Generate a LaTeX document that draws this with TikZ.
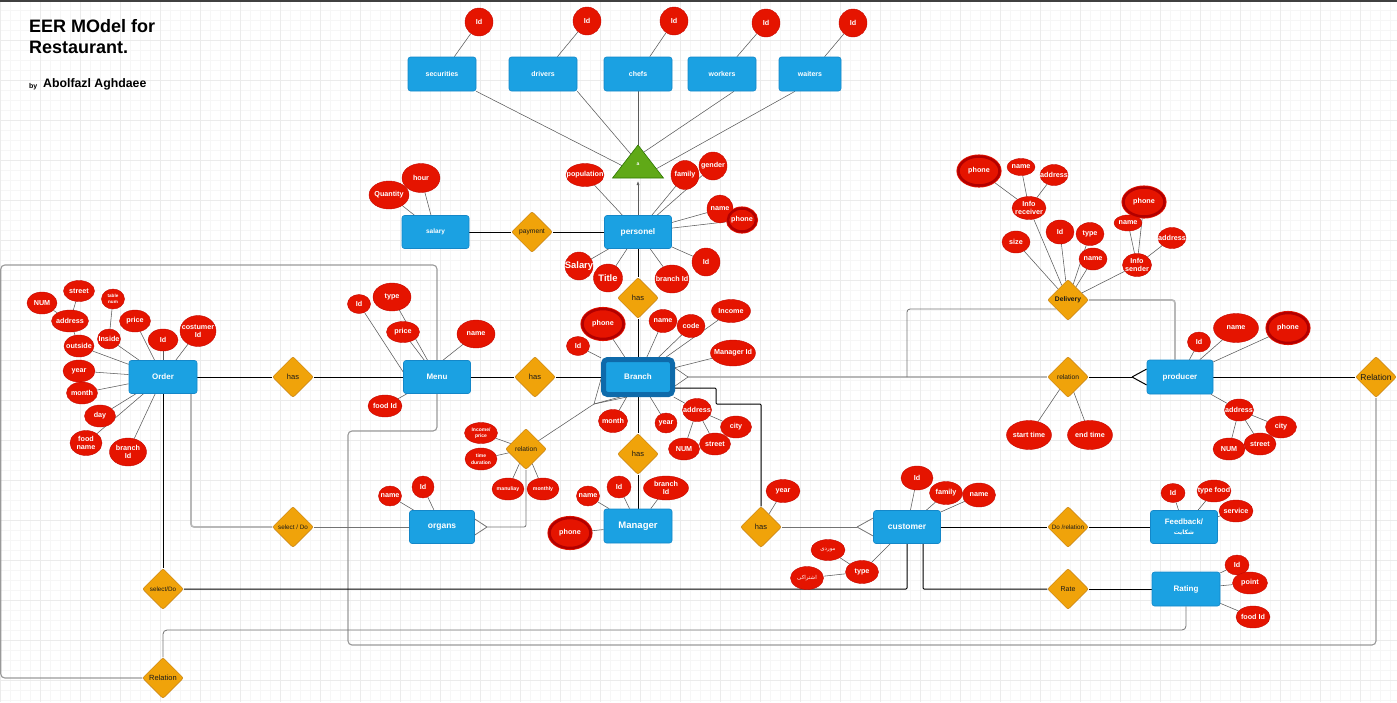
\documentclass[tikz,border=0pt]{standalone}
\usepackage{fontspec}
\setmainfont{Liberation Sans}
\newfontfamily\arabicfont[Script=Arabic]{DejaVu Sans}
\TeXXeTstate=1
\usetikzlibrary{shapes.geometric,arrows.meta,calc,backgrounds}

\definecolor{entblue}{HTML}{1BA1E2}
\definecolor{entline}{HTML}{1487C8}
\definecolor{brdark}{HTML}{0E6AAA}
\definecolor{attrred}{HTML}{E51400}
\definecolor{attrline}{HTML}{B20000}
\definecolor{relfill}{HTML}{F0A30A}
\definecolor{relline}{HTML}{C47C08}
\definecolor{isafill}{HTML}{60A917}
\definecolor{isaline}{HTML}{2D7600}
\definecolor{gridminor}{HTML}{F6F6F6}
\definecolor{gridmajor}{HTML}{EBEBEB}
\definecolor{linkgray}{HTML}{5A5A5A}
\definecolor{palegray}{HTML}{B8B8B8}

\newcommand\zw[1]{\makebox[0pt][c]{#1}}
\newcommand\fsz[2]{\fontsize{#1}{#2}\selectfont}
\newcommand\arb[1]{{\arabicfont\beginR #1\endR}}

\tikzset{
  ent/.style={rectangle, rounded corners=2.5pt, fill=entblue, draw=entline, line width=0.6pt,
    minimum width=67pt, minimum height=33pt, inner sep=1pt, text=white, align=center,
    font=\bfseries\fsz{8}{9.5}},
  att/.style 2 args={ellipse, fill=attrred, draw=attrline!60!attrred, line width=0.4pt,
    minimum width=#1pt, minimum height=#2pt, inner sep=0pt, text=white, align=center,
    font=\bfseries\fsz{7.2}{8.5}},
  mva/.style 2 args={ellipse, fill=attrred, draw=attrred, line width=0.8pt, double=attrline,
    double distance=2.5pt, minimum width=#1pt, minimum height=#2pt, inner sep=0pt,
    text=white, align=center, font=\bfseries\fsz{7.2}{8.5}},
  rel/.style={diamond, fill=relfill, draw=relline, line width=0.5pt, rounded corners=2pt,
    minimum width=41pt, minimum height=41pt, inner sep=0pt, text=black!90, align=center,
    font=\fsz{6.7}{7.5}},
  alink/.style={draw=linkgray, line width=0.55pt},
  rlink/.style={draw=black, line width=1pt},
  glink/.style={draw=palegray, line width=1.7pt},
  tlink/.style={draw=black!55, line width=0.8pt},
  llink/.style={draw=black!40, line width=1.1pt, rounded corners=4pt},
}

\begin{document}
\begin{tikzpicture}[x=1pt,y=-1pt]
\useasboundingbox (0,0) rectangle (1397,702);

% ---------- title ----------
\node[anchor=base west, inner sep=0pt, font=\bfseries\fsz{18}{20}] (t1) at (29,32) {EER MOdel for};
\node[anchor=base west, inner sep=0pt, font=\bfseries\fsz{18}{20}] (t2) at (29,53) {Restaurant.};
\node[anchor=base west, inner sep=0pt, font=\bfseries\fsz{7}{8}] (t3) at (29,88) {by};
\node[anchor=base west, inner sep=0pt, font=\bfseries\fsz{12.3}{14}] (t4) at (43,87) {Abolfazl Aghdaee};

% ---------- staff specialisation ----------
\node[ent, font=\bfseries\fsz{7}{8}, minimum width=68pt, minimum height=34pt] (sec) at (442,74) {securities};
\node[ent, font=\bfseries\fsz{7}{8}, minimum width=68pt, minimum height=34pt] (drv) at (543,74) {drivers};
\node[ent, font=\bfseries\fsz{7}{8}, minimum width=68pt, minimum height=34pt] (chef) at (638,74) {chefs};
\node[ent, font=\bfseries\fsz{7}{8}, minimum width=68pt, minimum height=34pt] (wrk) at (722,74) {workers};
\node[ent, font=\bfseries\fsz{7}{8}, minimum width=62pt, minimum height=34pt] (wtr) at (810,74) {waiters};
\node[att={28}{28}] (sid) at (479,22) {\zw{Id}};
\node[att={28}{28}] (did) at (587,21) {\zw{Id}};
\node[att={28}{28}] (cid) at (674,21) {\zw{Id}};
\node[att={28}{28}] (wid) at (766,23) {\zw{Id}};
\node[att={28}{28}] (tid) at (853,23) {\zw{Id}};

\coordinate (tA) at (638,145);
\coordinate (tL) at (612.5,178);
\coordinate (tR) at (663.5,178);
\coordinate (tB) at (638,181);
\filldraw[fill=isafill, draw=isaline, line width=0.6pt] (tA) -- (tR) -- (tL) -- cycle;
\node[text=white, font=\bfseries\fsz{5}{5}, inner sep=0pt] (isa) at (638,164) {a};

% ---------- personel ----------
\node[ent, font=\bfseries\fsz{8.3}{9}] (pers) at (638,232) {personel};
\node[ent, font=\bfseries\fsz{6.5}{7}] (sal) at (435.5,232) {salary};
\node[rel] (pay) at (532,232) {\zw{payment}};
\node[att={40}{28}] (qty) at (389,195) {\zw{Quantity}};
\node[att={38}{29}] (hour) at (421,178) {\zw{hour}};

\node[att={38}{23}] (pop) at (585,175) {\zw{population}};
\node[att={28}{29}] (fam) at (685,175) {\zw{family}};
\node[att={28}{28}] (gen) at (713,166) {\zw{gender}};
\node[att={26}{28}] (pname) at (720,209) {\zw{name}};
\node[mva={28}{23}] (pphone) at (742,220) {\zw{phone}};
\node[att={28}{28}] (pid) at (706,262) {\zw{Id}};
\node[att={34}{28}] (pbid) at (672,279) {\zw{branch Id}};
\node[att={29}{28}, font=\bfseries\fsz{9.4}{10}] (ptitle) at (608,278) {\zw{Title}};
\node[att={28}{28}, font=\bfseries\fsz{9.4}{10}] (psal) at (579,266) {\zw{Salary}};

\node[rel, font=\fsz{7.5}{8}] (has0) at (638,298) {\zw{has}};

% ---------- branch ----------
\node[ent, draw=brdark, line width=5pt, rounded corners=4pt, minimum width=69pt, minimum height=35pt] (branch) at (638,377) {Branch};
\node[mva={41}{30}] (bphone) at (603,324) {\zw{phone}};
\node[att={23}{19}] (bid) at (578,346) {\zw{Id}};
\node[att={28}{23}] (bname) at (663,321) {\zw{name}};
\node[att={28}{23}] (bcode) at (691,326) {\zw{code}};
\node[att={39}{23}] (binc) at (731,311) {\zw{Income}};
\node[att={45}{26}] (bmid) at (733,353) {\zw{Manager Id}};
\node[att={29}{23}] (bmon) at (613,421) {\zw{month}};
\node[att={22}{20}] (byear) at (666,423) {\zw{year}};
\node[att={29}{23}] (badr) at (697,410) {\zw{address}};
\node[att={31}{22}] (bcity) at (736,427) {\zw{city}};
\node[att={31}{22}] (bstr) at (715,444) {\zw{street}};
\node[att={31}{22}] (bnum) at (684,449) {\zw{NUM}};

\node[rel, font=\fsz{7.5}{8}] (has4) at (638,454) {\zw{has}};

% ---------- manager ----------
\node[ent, font=\bfseries\fsz{9.5}{10}, minimum width=68pt, minimum height=34pt] (mgr) at (638,526) {Manager};
\node[att={23}{20}] (mname) at (588,496) {\zw{name}};
\node[att={24}{22}] (mid) at (619,487) {\zw{Id}};
\node[att={45}{24}] (mbid) at (666,488) {\zw{branch}\\\zw{Id}};
\node[mva={41}{30}] (mphone) at (570,533) {\zw{phone}};

% ---------- organs and their relation ----------
\node[rel] (rel1) at (526,449) {\zw{relation}};
\node[att={33}{21}, font=\bfseries\fsz{5}{6.5}] (ip) at (481,433) {\zw{Income/}\\\zw{price}};
\node[att={32}{22}, font=\bfseries\fsz{5}{6.5}] (td) at (481,459) {\zw{time}\\\zw{duration}};
\node[att={32}{22}, font=\bfseries\fsz{5.2}{6}] (manu) at (508,489) {\zw{manuliay}};
\node[att={32}{22}, font=\bfseries\fsz{5.2}{6}] (mon) at (543,489) {\zw{monthly}};
\node[ent, font=\bfseries\fsz{8.5}{9}, minimum width=65pt, minimum height=33pt] (org) at (442,527) {organs};
\node[att={23}{20}] (oname) at (390,496) {\zw{name}};
\node[att={22}{22}] (oid) at (423,487) {\zw{Id}};
\node[rel, font=\fsz{6.3}{7}] (seldo1) at (293,527) {\zw{select / Do}};

% ---------- order ----------
\node[ent, minimum width=68pt] (ord) at (163,377) {Order};
\node[att={30}{22}] (onum) at (42,303) {\zw{NUM}};
\node[att={31}{21}] (ostr) at (79,291) {\zw{street}};
\node[att={23}{20}, font=\bfseries\fsz{4.6}{6.5}] (otn) at (113,299) {\zw{table}\\\zw{num}};
\node[att={37}{22}] (oadr) at (70,321) {\zw{address}};
\node[att={31}{22}] (oprc) at (135,321) {\zw{price}};
\node[att={30}{22}] (oid2) at (163,340) {\zw{Id}};
\node[att={36}{31}] (ocid) at (198,331) {\zw{costumer}\\\zw{Id}};
\node[att={30}{22}] (oout) at (79,346) {\zw{outside}};
\node[att={23}{20}] (oin) at (109,339) {\zw{Inside}};
\node[att={32}{22}] (oyr) at (79,371) {\zw{year}};
\node[att={31}{22}] (omon) at (82,393) {\zw{month}};
\node[att={31}{22}] (oday) at (100,416) {\zw{day}};
\node[att={32}{25}] (ofn) at (86,443) {\zw{food}\\\zw{name}};
\node[att={37}{28}] (obid) at (128,452) {\zw{branch}\\\zw{Id}};

\node[rel, font=\fsz{7.5}{8}] (has1) at (293,377) {\zw{has}};
\node[rel, font=\fsz{6.3}{7}] (seldo2) at (163,589) {\zw{select/Do}};
\node[rel, font=\fsz{7.5}{8}] (rel2) at (163,678) {\zw{Relation}};

% ---------- menu ----------
\node[ent] (menu) at (437,377) {Menu};
\node[att={23}{19}] (mid2) at (359,304) {\zw{Id}};
\node[att={38}{28}] (mtype) at (392,297) {\zw{type}};
\node[att={33}{21}] (mprice) at (403,332) {\zw{price}};
\node[att={38}{28}] (mnm) at (476,334) {\zw{name}};
\node[att={34}{22}] (mfood) at (385,406) {\zw{food Id}};
\node[rel, font=\fsz{7.5}{8}] (has2) at (535,377) {\zw{has}};

% ---------- customer ----------
\node[ent, font=\bfseries\fsz{8.5}{9}, minimum height=33pt] (cust) at (907,527) {customer};
\node[rel, font=\fsz{7.5}{8}] (has3) at (761,527) {\zw{has}};
\node[att={34}{23}] (cyear) at (783,491) {\zw{year}};
\node[att={32}{24}] (cid2) at (917,478) {\zw{Id}};
\node[att={33}{23}] (cfam) at (946,493) {\zw{family}};
\node[att={33}{24}] (cname) at (979,495) {\zw{name}};
\node[att={33}{23}] (ctype) at (862,572) {\zw{type}};
\node[att={34}{21}, font=\fsz{5.5}{6}] (ct1) at (828,550) {\zw{\arb{موردی}}};
\node[att={33}{23}, font=\fsz{5.5}{6}] (ct2) at (807,578) {\zw{\arb{اشتراکی}}};

\node[rel, font=\fsz{6.3}{7}] (dorel) at (1068,527) {\zw{Do /relation}};
\node[ent, font=\bfseries\fsz{7.8}{9.5}, minimum height=33pt] (fb) at (1184,527) {Feedback/\\{\fsz{6}{7}\arb{شکایت}}};
\node[att={24}{19}] (fid) at (1173,493) {\zw{Id}};
\node[att={34}{22}] (ftype) at (1214,491) {\zw{type food}};
\node[att={34}{22}] (fserv) at (1236,511) {\zw{service}};

\node[rel, font=\fsz{7}{8}] (rate) at (1068,589) {\zw{Rate}};
\node[ent, minimum width=68pt, minimum height=34pt] (rating) at (1186,589) {Rating};
\node[att={24}{20}] (rid) at (1237,565) {\zw{Id}};
\node[att={35}{22}] (rpoint) at (1250,583) {\zw{point}};
\node[att={34}{22}] (rfood) at (1253,617) {\zw{food Id}};

% ---------- producer and delivery ----------
\node[ent, minimum width=66pt, minimum height=34pt] (prod) at (1180,377) {producer};
\node[att={23}{20}] (prid) at (1199,342) {\zw{Id}};
\node[att={45}{29}] (prname) at (1236,328) {\zw{name}};
\node[mva={41}{30}] (prphone) at (1288,328) {\zw{phone}};
\node[att={29}{22}] (pradr) at (1239,410) {\zw{address}};
\node[att={31}{22}] (prcity) at (1281,427) {\zw{city}};
\node[att={32}{22}] (prstr) at (1260,444) {\zw{street}};
\node[att={32}{22}] (prnum) at (1229,449) {\zw{NUM}};

\node[rel] (relP) at (1068,377) {\zw{relation}};
\node[att={45}{29}] (st) at (1029,435) {\zw{start time}};
\node[att={45}{29}] (et) at (1090,435) {\zw{end time}};
\node[rel, font=\fsz{8.5}{9}] (relR) at (1376,377) {\zw{Relation}};

\node[rel, font=\bfseries\fsz{6.7}{7.5}] (del) at (1068,300) {\zw{Delivery}};
\node[att={34}{23}] (drec) at (1029,208) {\zw{Info}\\\zw{receiver}};
\node[mva={41}{29}] (drph) at (979,171) {\zw{phone}};
\node[att={28}{17}] (drnm) at (1021,167) {\zw{name}};
\node[att={28}{21}] (dradr) at (1054,175) {\zw{address}};
\node[att={28}{22}] (dsize) at (1016,242) {\zw{size}};
\node[att={28}{24}] (did2) at (1060,232) {\zw{Id}};
\node[att={28}{23}] (dtype) at (1090,234) {\zw{type}};
\node[att={28}{22}] (dname) at (1093,259) {\zw{name}};
\node[att={29}{23}] (dsen) at (1137,265) {\zw{Info}\\\zw{sender}};
\node[att={28}{16}] (dsnm) at (1128,223) {\zw{name}};
\node[mva={41}{29}] (dsph) at (1144,202) {\zw{phone}};
\node[att={28}{21}] (dsadr) at (1172,238) {\zw{address}};

% crow's foot tips
\coordinate (cfB) at (594,404);
\coordinate (cfBR) at (688,377);
\coordinate (cfO) at (487,527);
\coordinate (cfC) at (857,527);
\coordinate (cfP) at (1132,377);
\coordinate (dlv) at ($(del.west)+(9,9)$);
\coordinate (jn) at (907,377);

\begin{scope}[on background layer]
  % drawing grid
  \foreach \gx in {0,10,...,1390} \draw[gridminor, line width=0.5pt] (\gx,0) -- (\gx,702);
  \foreach \gy in {0,10,...,700} \draw[gridminor, line width=0.5pt] (0,\gy) -- (1397,\gy);
  \foreach \gx in {0,40,...,1390} \draw[gridmajor, line width=0.5pt] (\gx,0) -- (\gx,702);
  \foreach \gy in {0,40,...,700} \draw[gridmajor, line width=0.5pt] (0,\gy) -- (1397,\gy);
  \fill[black!75] (0,0) rectangle (1397,2.2);

  % long loops to the menu
  \draw[llink] (rel2.west) -- (0.8,678) -- (0.8,265) -- (437,265) -- (menu.north);
  \draw[llink] (relR.south) -- (1376,645) -- (348,645) -- (348,431) -- (437,431) -- (menu.south);
  \draw[tlink, rounded corners=4pt] (rating.south) -- (1186,630) -- (163,630) -- (rel2.north);

  % specialisation
  \draw[alink] (sid) -- (sec);
  \draw[alink] (did) -- (drv);
  \draw[alink] (cid) -- (chef);
  \draw[alink] (wid) -- (wrk);
  \draw[alink] (tid) -- (wtr);
  \draw[alink] (sec.south east) -- ($(tA)!0.625!(tL)$);
  \draw[alink] (drv.south east) -- ($(tA)!0.28!(tL)$);
  \draw[alink] (chef.south) -- (tA);
  \draw[alink] ($(wrk.south)+(12,0)$) -- ($(tA)!0.22!(tR)$);
  \draw[alink] ($(wtr.south)+(-15,0)$) -- ($(tA)!0.72!(tR)$);
  \draw[alink, -{Latex[length=4pt,width=3pt]}] (pers.north) -- (tB);

  % personel
  \draw[rlink] (sal) -- (pay);
  \draw[rlink] (pay) -- (pers);
  \draw[alink] (qty) -- (sal);
  \draw[alink] (hour) -- (sal);
  \foreach \a in {pop,fam,gen,pname,pphone,pid,pbid,ptitle,psal} \draw[alink] (pers) -- (\a);
  \draw[rlink] (pers) -- (has0);
  \draw[rlink] (has0) -- (branch);

  % branch
  \foreach \a in {bid,bphone,bname,bcode,binc,bmid,bmon,byear,badr} \draw[alink] (branch) -- (\a);
  \foreach \a in {bcity,bstr,bnum} \draw[alink] (badr) -- (\a);
  \draw[rlink] (branch) -- (has4);
  \draw[rlink] (has4) -- (mgr);
  \foreach \a in {mname,mid,mbid,mphone} \draw[alink] (mgr) -- (\a);
  \draw[alink] (cfB) -- (rel1);
  \draw[alink] (cfB) -- ($(branch.west)+(0,2)$);
  \draw[alink] (cfB) -- ($(branch.south)+(-18,0)$);
  \draw[alink] (cfB) -- ($(branch.south)+(-11,0)$);
  \draw[glink] (cfBR) -- (relP);
  \draw[alink] (cfBR) -- ($(branch.east)+(0,-9)$);
  \draw[alink] (cfBR) -- ($(branch.east)+(0,9)$);
  \draw[rlink, rounded corners=1pt] ($(branch.east)+(0,11)$) -- (716,388) -- (716,404) -- (761,404) -- (has3.north);

  % organs
  \foreach \a in {ip,td,manu,mon} \draw[alink] (rel1) -- (\a);
  \draw[tlink, rounded corners=2pt] (cfO) -| (rel1.south);
  \draw[tlink] (cfO) -- ($(org.east)+(0,-8)$);
  \draw[tlink] (cfO) -- ($(org.east)+(0,8)$);
  \draw[alink] (oname) -- (org);
  \draw[alink] (oid) -- (org);
  \draw[tlink] (seldo1) -- (org);

  % order
  \draw[rlink] (ord) -- (has1);
  \draw[rlink] (has1) -- (menu);
  \draw[rlink] (menu) -- (has2);
  \draw[rlink] (has2) -- (branch);
  \draw[alink] (oadr) -- (onum);
  \draw[alink] (oadr) -- (ostr);
  \draw[alink] (oadr) -- (oout);
  \draw[alink] (oin) -- (otn);
  \foreach \a in {oout,oin,oprc,oid2,ocid,oyr,omon,oday,ofn,obid} \draw[alink] (ord) -- (\a);
  \draw[rlink] (ord.south) -- (seldo2.north);
  \draw[glink, rounded corners=3pt] ($(ord.south)+(28,0)$) |- (seldo1.west);
  \draw[rlink, rounded corners=1pt] (seldo2.east) -| (cust.south);

  % menu
  \draw[alink] (mid2) -- ($(menu.west)+(0,-5)$);
  \draw[alink] (mtype) -- (menu);
  \draw[alink] (mprice) -- (menu);
  \draw[alink] (mnm) -- ($(menu.north)+(6,0)$);
  \draw[alink] (mfood) -- (menu);

  % customer
  \draw[tlink] (has3) -- (cfC);
  \draw[tlink] (cfC) -- ($(cust.west)+(0,-9)$);
  \draw[tlink] (cfC) -- ($(cust.west)+(0,9)$);
  \draw[alink] (cyear) -- (has3);
  \foreach \a in {cid2,cfam,cname,ctype} \draw[alink] (cust) -- (\a);
  \draw[alink] (ctype) -- (ct1);
  \draw[alink] (ctype) -- (ct2);
  \draw[rlink] (cust) -- (dorel);
  \draw[rlink] (dorel) -- (fb);
  \foreach \a in {fid,ftype,fserv} \draw[alink] (fb) -- (\a);
  \draw[rlink, rounded corners=1pt] ($(cust.south)+(16,0)$) |- (rate.west);
  \draw[rlink] (rate) -- (rating);
  \foreach \a in {rid,rpoint,rfood} \draw[alink] (rating) -- (\a);

  % producer and delivery
  \draw[rlink] (relP) -- (cfP);
  \draw[rlink] (cfP) -- ($(prod.west)+(0,-8)$);
  \draw[rlink] (cfP) -- ($(prod.west)+(0,8)$);
  \draw[rlink] (prod) -- (relR);
  \draw[alink] (relP) -- (st);
  \draw[alink] (relP) -- (et);
  \foreach \a in {prid,prname,prphone,pradr} \draw[alink] (prod) -- (\a);
  \foreach \a in {prcity,prstr,prnum} \draw[alink] (pradr) -- (\a);
  \draw[tlink, rounded corners=3pt] (dlv) -- (907,309) -- (jn);
  \draw[glink, rounded corners=3pt] (del.east) -| ($(prod.north)+(-5,0)$);
  \foreach \a in {dsize,drec,did2,dtype,dname,dsen} \draw[alink] (del) -- (\a);
  \foreach \a in {drph,drnm,dradr} \draw[alink] (drec) -- (\a);
  \foreach \a in {dsnm,dsph,dsadr} \draw[alink] (dsen) -- (\a);
\end{scope}
\end{tikzpicture}
\end{document}
